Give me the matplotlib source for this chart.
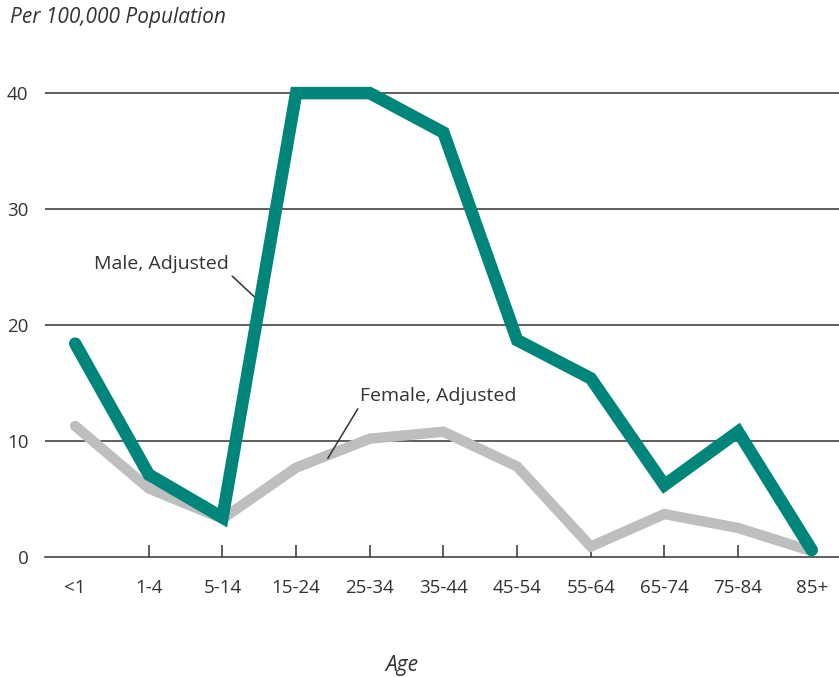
import matplotlib.pyplot as plt

# ---------- data ----------
ages = ["<1", "1-4", "5-14", "15-24", "25-34", "35-44",
        "45-54", "55-64", "65-74", "75-84", "85+"]
male = [18.4, 7.1, 3.4, 40.0, 40.0, 36.6, 18.7, 15.4, 6.2, 10.8, 0.6]
female = [11.3, 5.9, 3.3, 7.7, 10.2, 10.8, 7.8, 0.9, 3.7, 2.5, 0.5]
yticks = [0, 10, 20, 30, 40]

plt.rcParams["font.family"] = ["Open Sans", "DejaVu Sans"]
ink = "#333333"

fig = plt.figure(figsize=(8.39, 6.77), dpi=100)
ax = fig.add_axes([0.0536, 0.1773, 0.9464, 0.7537])

x = list(range(len(ages)))
ax.plot(x, female, color="#bcbec0", lw=7.5, solid_capstyle="round",
        solid_joinstyle="miter", zorder=3)
ax.plot(x, male, color="#00857a", lw=9, solid_capstyle="round",
        solid_joinstyle="miter", zorder=4)

# grid + axes
for v in yticks[1:]:
    ax.axhline(v, color=ink, lw=1.1, zorder=1)
ax.set_xlim(-0.41, 10.37)
ax.set_ylim(0, 44)
for s in ["top", "right", "left"]:
    ax.spines[s].set_visible(False)
ax.spines["bottom"].set_color(ink)
ax.spines["bottom"].set_linewidth(1.1)

ax.set_yticks(yticks)
ax.tick_params(axis="y", length=0, pad=12, labelsize=13.5, labelcolor=ink)
ax.set_xticks(x)
ax.set_xticklabels(ages)
ax.tick_params(axis="x", direction="in", length=8.5, width=1.1, color=ink,
               pad=16, labelsize=13.5, labelcolor=ink)
ax.xaxis.get_major_ticks()[0].tick1line.set_visible(False)

# labels
fig.text(10 / 839, 1 - 18 / 677, "Per 100,000 Population", style="italic",
         fontsize=15, color=ink, ha="left", va="center")
fig.text(402 / 839, 1 - 665 / 677, "Age", style="italic",
         fontsize=15, color=ink, ha="center", va="center")

# annotations
ax.annotate("Male, Adjusted", xy=(2.54, 21.8), xytext=(2.08, 25.3),
            fontsize=14, color=ink, ha="right", va="center",
            arrowprops=dict(arrowstyle="-", color=ink, lw=1.1,
                            relpos=(1.0, 0.0), shrinkA=1, shrinkB=0))
ax.annotate("Female, Adjusted", xy=(3.43, 8.5), xytext=(3.87, 13.9),
            fontsize=14, color=ink, ha="left", va="center",
            arrowprops=dict(arrowstyle="-", color=ink, lw=1.1,
                            relpos=(0.0, 0.0), shrinkA=1, shrinkB=0))

fig.savefig("out.png", dpi=100)
